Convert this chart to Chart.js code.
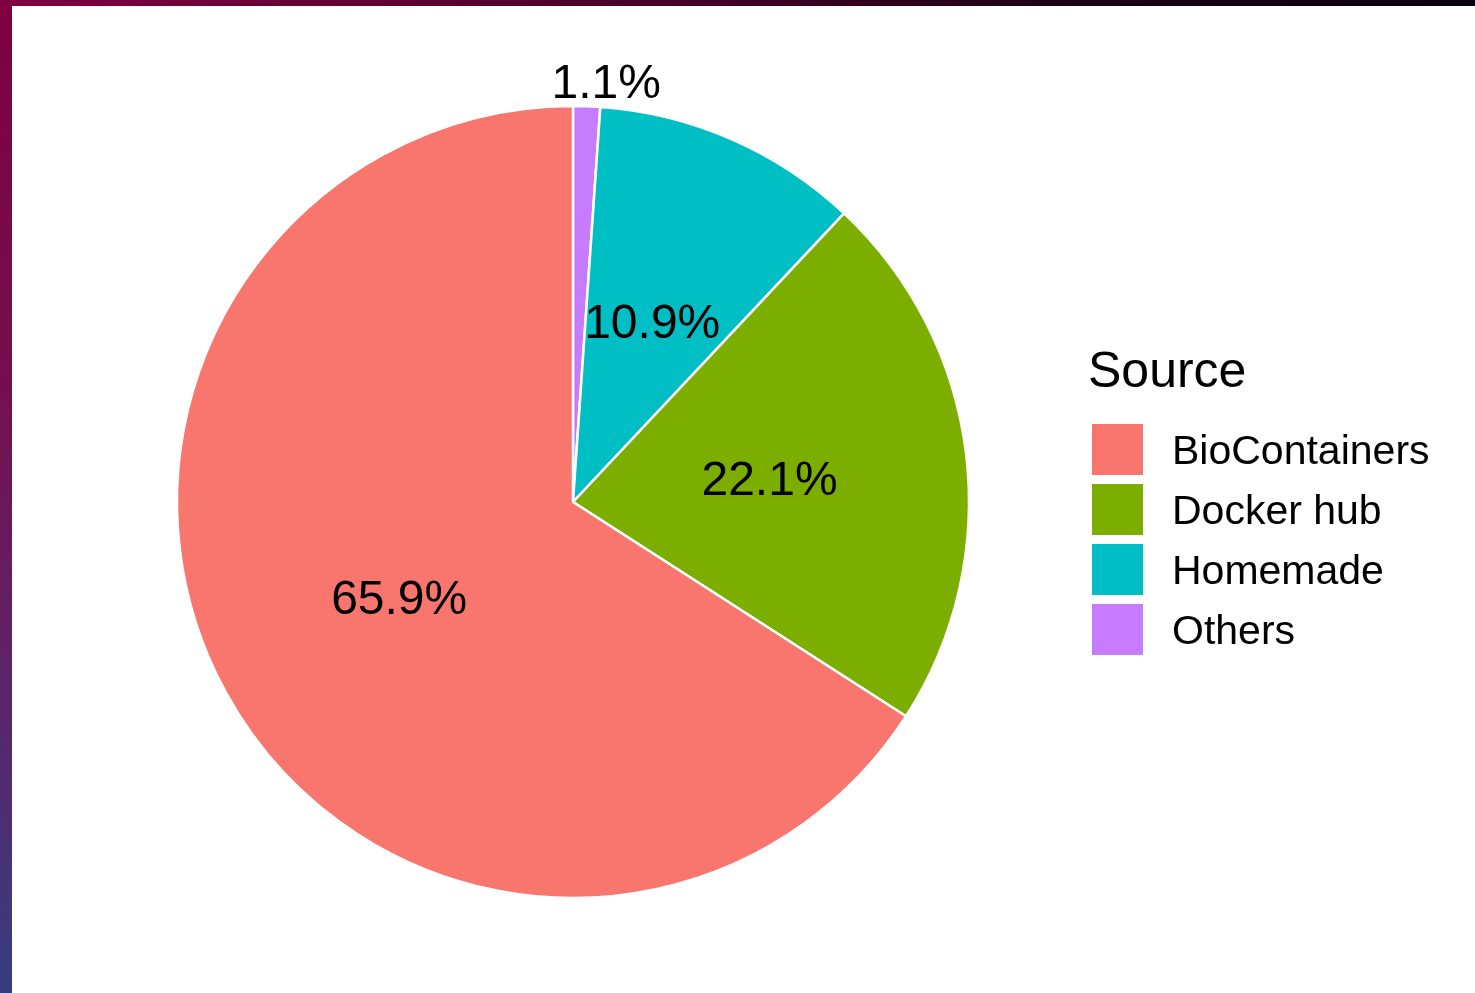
<!DOCTYPE html>
<html><head><meta charset="utf-8">
<script src="https://cdn.jsdelivr.net/npm/chart.js@4.4.0/dist/chart.umd.min.js"></script>
<style>
html,body{margin:0;padding:0;width:1475px;height:993px;overflow:hidden;background:#fff;}
#topbar{position:absolute;left:0;top:0;width:1475px;height:6px;background:linear-gradient(to right,#7f0040 0%,#55002e 35%,#1a0012 75%,#0a0010 100%);}
#leftbar{position:absolute;left:0;top:0;width:12px;height:993px;background:linear-gradient(to bottom,#7f0040 0%,#741050 40%,#56286e 75%,#363e80 100%);}
#wrap{position:absolute;left:12px;top:6px;width:1463px;height:987px;background:#fff;}
canvas{display:block;}
</style></head>
<body>
<div id="topbar"></div><div id="leftbar"></div>
<div id="wrap"><canvas id="c" width="1463" height="987"></canvas></div>
<script>
// ---- data (legend order) ----
const categories = ["BioContainers", "Docker hub", "Homemade", "Others"];
const shares = [65.9, 22.1, 10.9, 1.1];
const colors = ["#F8766D", "#7CAE00", "#00BFC4", "#C77CFF"];
const legendTitle = "Source";

// pie is drawn clockwise from 12 o'clock in reverse legend order
const pieLabels = categories.slice().reverse();
const pieValues = shares.slice().reverse();
const pieColors = colors.slice().reverse();

const FONT = "'Liberation Sans', Arial, Helvetica, sans-serif";

const sliceLabelPlugin = {
  id: 'sliceLabels',
  afterDatasetsDraw(chart, args, opts) {
    const ctx = chart.ctx;
    const meta = chart.getDatasetMeta(0);
    const ds = chart.data.datasets[0];
    ctx.save();
    ctx.font = opts.size + 'px ' + FONT;
    ctx.fillStyle = opts.color;
    ctx.textAlign = 'center';
    ctx.textBaseline = 'alphabetic';
    meta.data.forEach((arc, i) => {
      const p = arc.getProps(['x', 'y', 'startAngle', 'endAngle', 'outerRadius'], true);
      const name = chart.data.labels[i];
      const o = (opts.special && opts.special[name]) || {radius: opts.radius, along: 0.5};
      const a = p.startAngle + (p.endAngle - p.startAngle) * o.along;
      const r = p.outerRadius * o.radius;
      const x = p.x + r * Math.cos(a);
      const y = p.y + r * Math.sin(a);
      const txt = ds.data[i].toFixed(1) + '%';
      ctx.fillText(txt, x, y + opts.size * 0.358);
    });
    ctx.restore();
  }
};

const legendPlugin = {
  id: 'ggLegend',
  afterDraw(chart, args, opts) {
    const ctx = chart.ctx;
    ctx.save();
    ctx.fillStyle = '#000';
    ctx.textAlign = 'left';
    ctx.textBaseline = 'alphabetic';
    ctx.font = opts.titleSize + 'px ' + FONT;
    ctx.fillText(legendTitle, opts.titleX, opts.titleY);
    ctx.font = opts.labelSize + 'px ' + FONT;
    categories.forEach((name, i) => {
      const top = opts.boxY + i * opts.step;
      ctx.fillStyle = colors[i];
      ctx.fillRect(opts.boxX, top, opts.box, opts.box);
      ctx.fillStyle = '#000';
      ctx.fillText(name, opts.textX, top + opts.box / 2 + opts.labelSize * 0.358);
    });
    ctx.restore();
  }
};

new Chart(document.getElementById('c'), {
  type: 'pie',
  data: {
    labels: pieLabels,
    datasets: [{
      data: pieValues,
      backgroundColor: pieColors,
      borderColor: '#ffffff',
      borderWidth: 2.5
    }]
  },
  options: {
    responsive: false,
    animation: false,
    radius: 396,
    rotation: 0,
    layout: {padding: {left: 166, right: 507, top: 101, bottom: 96}},
    plugins: {
      legend: {display: false},
      tooltip: {enabled: false},
      sliceLabels: {
        size: 48, color: '#000', radius: 0.5,
        special: {"Others": {radius: 1.066, along: 1.14}}
      },
      ggLegend: {
        titleSize: 50, titleX: 1076, titleY: 381,
        labelSize: 41, boxX: 1080, boxY: 418, box: 51, step: 60, textX: 1160
      }
    }
  },
  plugins: [sliceLabelPlugin, legendPlugin]
});
</script>
</body></html>
